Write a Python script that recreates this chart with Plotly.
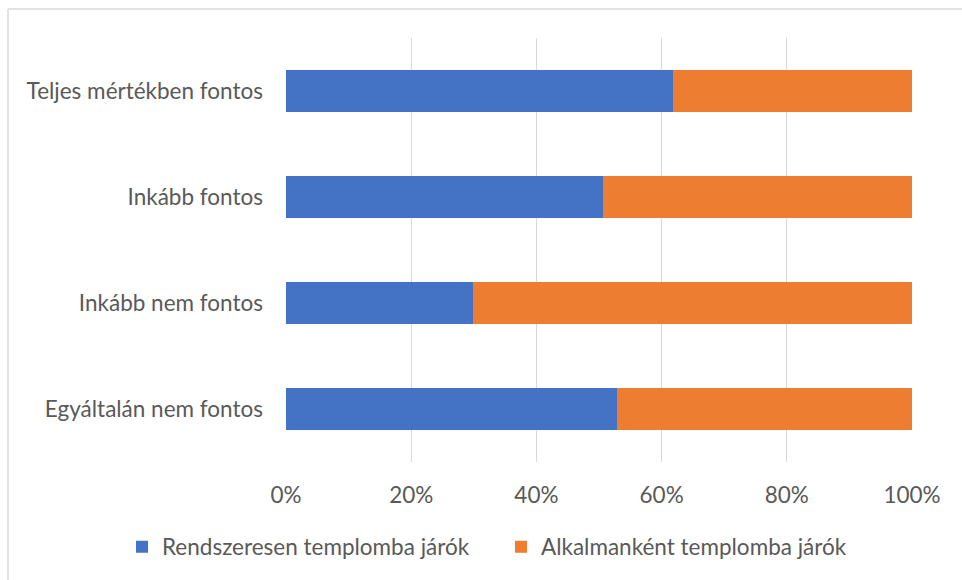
import plotly.graph_objects as go

categories = ["Egyáltalán nem fontos", "Inkább nem fontos", "Inkább fontos", "Teljes mértékben fontos"]
rendszeresen = [52.9, 29.8, 50.7, 61.9]
alkalmankent = [47.1, 70.2, 49.3, 38.1]
series_names = ["Rendszeresen templomba járók", "Alkalmanként templomba járók"]
tick_vals = [0, 20, 40, 60, 80, 100]
tick_text = ["0%", "20%", "40%", "60%", "80%", "100%"]

FONT = "Lato"
FS = 22.5
TXT = "#595959"
GRID = "#D9D9D9"

fig = go.Figure()
fig.add_trace(go.Bar(y=categories, x=rendszeresen, orientation="h", name=series_names[0],
                     marker=dict(color="#4472C4", line=dict(width=0)), width=0.4))
fig.add_trace(go.Bar(y=categories, x=alkalmankent, orientation="h", name=series_names[1],
                     marker=dict(color="#ED7D31", line=dict(width=0)), width=0.4))

W, H = 962, 580
L, R, T, B = 286, 50, 38, 118
pw, ph = W - L - R, H - T - B

def px(x):
    return (x - L) / pw

def py(y):
    return (H - B - y) / ph

fig.update_layout(
    width=W, height=H,
    barmode="stack",
    margin=dict(l=L, r=R, t=T, b=B, pad=0),
    paper_bgcolor="white", plot_bgcolor="white",
    font=dict(family=FONT, size=FS, color=TXT),
    xaxis=dict(range=[0, 100], tickvals=tick_vals, ticktext=tick_text, showgrid=True,
               gridcolor=GRID, gridwidth=1, zeroline=False, showline=False,
               ticks="", ticklabelstandoff=17, tickfont=dict(size=FS, color=TXT, family=FONT),
               fixedrange=True),
    yaxis=dict(showgrid=False, zeroline=False, showline=False, ticks="",
               ticklabelstandoff=22, tickfont=dict(size=FS, color=TXT, family=FONT),
               categoryorder="array", categoryarray=categories, fixedrange=True),
    legend=dict(orientation="h", x=px(122), xanchor="left", y=py(547), yanchor="middle",
                font=dict(size=FS, color=TXT, family=FONT), itemwidth=30,
                entrywidth=334, entrywidthmode="pixels",
                traceorder="normal", bgcolor="rgba(0,0,0,0)"),
    showlegend=True,
    shapes=[
        dict(type="line", xref="paper", yref="paper", x0=px(8), x1=px(970), y0=py(9), y1=py(9),
             line=dict(color=GRID, width=1.5)),
        dict(type="line", xref="paper", yref="paper", x0=px(8), x1=px(8), y0=py(9), y1=py(590),
             line=dict(color=GRID, width=1.5)),
    ],
)

fig.write_html("out.html", config={"displayModeBar": False},
               post_script="document.body.style.margin='0';document.body.style.overflow='hidden';")
